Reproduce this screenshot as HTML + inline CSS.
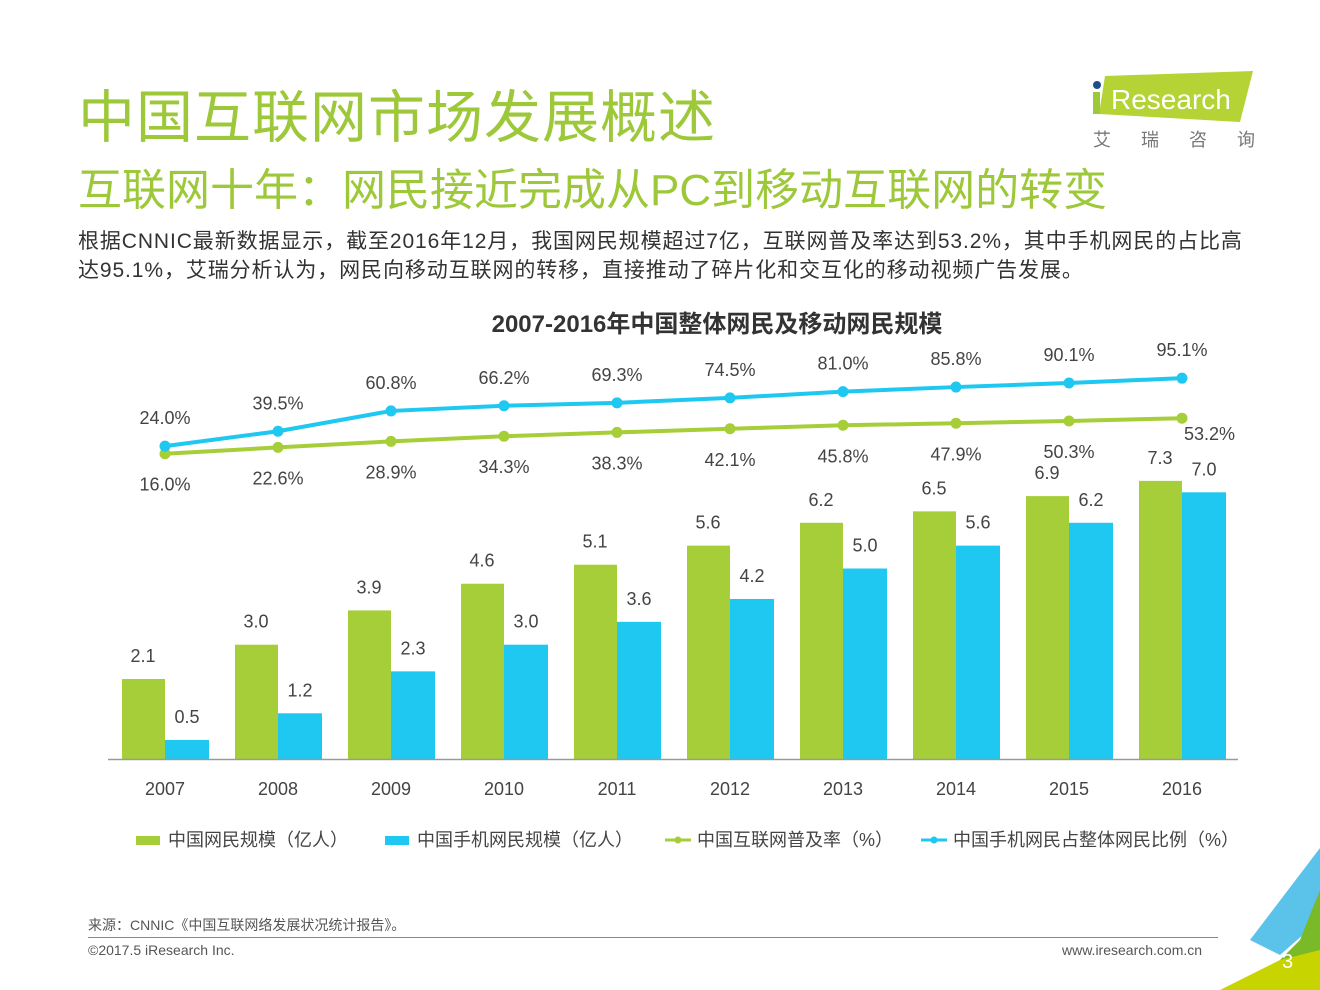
<!DOCTYPE html>
<html><head><meta charset="utf-8"><style>
body{margin:0;width:1320px;height:990px;background:#fff;overflow:hidden;position:relative;font-family:"Liberation Sans","Noto Sans CJK SC",sans-serif;}
.a{position:absolute;white-space:nowrap}
</style></head><body>
<div class="a" style="left:78px;top:72px;font-size:57px;color:#9dc83a;letter-spacing:1px">中国互联网市场发展概述</div>
<div class="a" style="left:78px;top:154px;font-size:44px;color:#9dc83a">互联网十年：网民接近完成从PC到移动互联网的转变</div>
<div class="a" style="left:78px;top:227px;font-size:21px;letter-spacing:0.9px;line-height:29px;color:#333">根据CNNIC最新数据显示，截至2016年12月，我国网民规模超过7亿，互联网普及率达到53.2%，其中手机网民的占比高<br>达95.1%，艾瑞分析认为，网民向移动互联网的转移，直接推动了碎片化和交互化的移动视频广告发展。</div>
<svg class="a" style="left:1085px;top:68px" width="180" height="90">
<polygon points="20,8 168,3 155,54 14,46" fill="#b5d334"/>
<circle cx="12" cy="17" r="4" fill="#1f4e8c"/>
<rect x="8" y="24" width="7" height="22" fill="#9dc83a"/>
<text x="26" y="41" font-size="28" fill="#fff" font-family="Liberation Sans">Research</text>
<text x="8" y="78" font-size="18" fill="#777" font-family="Noto Sans CJK SC" letter-spacing="30">艾瑞咨询</text>
</svg>
<svg class="a" style="left:0;top:300px" width="1320" height="560" id="chart"></svg>
<div class="a" style="left:88px;top:915px;font-size:14px;color:#555">来源：CNNIC《中国互联网络发展状况统计报告》。</div>
<div class="a" style="left:88px;top:937px;width:1130px;height:1px;background:#888"></div>
<div class="a" style="left:88px;top:942px;font-size:14px;color:#555">©2017.5 iResearch Inc.</div>
<div class="a" style="left:1062px;top:942px;font-size:14px;color:#555">www.iresearch.com.cn</div>
<svg class="a" style="left:1220px;top:840px" width="100" height="150">
<polygon points="100,8 100,80 60,115 30,100" fill="#5bc2ea"/>
<polygon points="100,50 100,150 30,150 80,100" fill="#7ab928"/>
<polygon points="100,110 100,150 0,150 60,120" fill="#c8d400"/>
<text x="62" y="128" font-size="20" fill="#fff" font-family="Liberation Sans">3</text>
</svg>
<script>
const years=['2007','2008','2009','2010','2011','2012','2013','2014','2015','2016'];
const netUsers=[2.1,3.0,3.9,4.6,5.1,5.6,6.2,6.5,6.9,7.3];
const mobileUsers=[0.5,1.2,2.3,3.0,3.6,4.2,5.0,5.6,6.2,7.0];
const penetration=[16.0,22.6,28.9,34.3,38.3,42.1,45.8,47.9,50.3,53.2];
const mobileShare=[24.0,39.5,60.8,66.2,69.3,74.5,81.0,85.8,90.1,95.1];
const svg=document.getElementById('chart');const NS='http://www.w3.org/2000/svg';
const G='#a6ce39',B='#1ec8f0',T='#444';
const X=i=>165+113*i; const YB=v=>459-38.1*v; const YL=v=>169-0.955*v;
function el(t,a,txt){const e=document.createElementNS(NS,t);for(const k in a)e.setAttribute(k,a[k]);if(txt!==undefined)e.textContent=txt;svg.appendChild(e);return e;}
let e=el('text',{x:717,y:32,'font-size':24,'font-weight':'bold','text-anchor':'middle',fill:'#333','font-family':'Liberation Sans, Noto Sans CJK SC'},'2007-2016年中国整体网民及移动网民规模');

years.forEach((y,i)=>{
 let r=el('rect',{x:X(i)-43,y:YB(netUsers[i]),width:43,height:459-YB(netUsers[i]),fill:G});
 
 r=el('rect',{x:X(i),y:YB(mobileUsers[i]),width:44,height:459-YB(mobileUsers[i]),fill:B});
 
 let t=el('text',{x:X(i)-22,y:YB(netUsers[i])-17,'font-size':18,'text-anchor':'middle',fill:T},netUsers[i].toFixed(1));
 
 t=el('text',{x:X(i)+22,y:YB(mobileUsers[i])-17,'font-size':18,'text-anchor':'middle',fill:T},mobileUsers[i].toFixed(1));
 
 t=el('text',{x:X(i),y:495,'font-size':18,'text-anchor':'middle',fill:T},y);
 
});
let ax=el('line',{x1:108,x2:1238,y1:459.5,y2:459.5,stroke:'#999','stroke-width':1.5});

[[penetration,G,'penetration'],[mobileShare,B,'mobile-share']].forEach(([d,c,n],k)=>{
 let p=el('polyline',{points:d.map((v,i)=>X(i)+','+YL(v)).join(' '),fill:'none',stroke:c,'stroke-width':4});
 
 d.forEach((v,i)=>{
  let m=el('circle',{cx:X(i),cy:YL(v),r:5.5,fill:c});
  
  let lx=X(i),ly=k?YL(v)-22:YL(v)+37,anc='middle';
  if(!k&&i==9){lx=X(i)+2;ly=YL(v)+22;anc='start';}
  let t=el('text',{x:lx,y:ly,'font-size':18,'text-anchor':anc,fill:T},v.toFixed(1)+'%');
  
 });
});
const legend=[['中国网民规模（亿人）',G,0,136],['中国手机网民规模（亿人）',B,0,385],['中国互联网普及率（%）',G,1,665],['中国手机网民占整体网民比例（%）',B,1,921]];
legend.forEach(([txt,c,ln,x])=>{
 if(ln){el('line',{x1:x,x2:x+26,y1:540,y2:540,stroke:c,'stroke-width':3});el('circle',{cx:x+13,cy:540,r:3.5,fill:c});}
 else el('rect',{x:x,y:536,width:24,height:9,fill:c});
 let t=el('text',{x:x+32,y:546,'font-size':18,fill:T,'font-family':'Liberation Sans, Noto Sans CJK SC'},txt);
 
});
</script>
</body></html>
